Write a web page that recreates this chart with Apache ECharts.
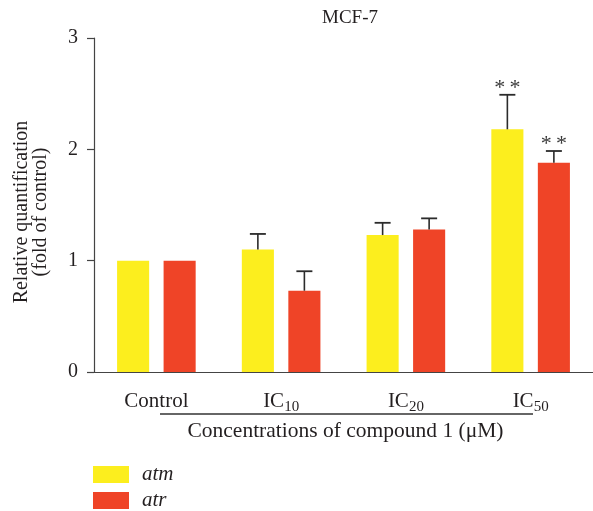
<!DOCTYPE html>
<html>
<head>
<meta charset="utf-8">
<script src="https://cdn.jsdelivr.net/npm/echarts@6/dist/echarts.min.js"></script>
<style>html,body{margin:0;padding:0;background:#fff;}#c{width:593px;height:511px;}</style>
</head>
<body>
<div id="c"></div>
<script>
var categories = ['Control', 'IC10', 'IC20', 'IC50'];
var subscripts = ['', '10', '20', '50'];
var atm = [1.0, 1.10, 1.23, 2.18];
var atmErr = [0, 0.14, 0.11, 0.31];
var atmSig = ['', '', '', '**'];
var atr = [1.0, 0.73, 1.28, 1.88];
var atrErr = [0, 0.175, 0.10, 0.105];
var atrSig = ['', '', '', '**'];
var yTicks = [0, 1, 2, 3];

var FONT = '"Liberation Serif", "DejaVu Serif", serif';
var TXT = '#231f20';
var CAT_GAP = 0.37, BAR_GAP = 0.45;

function errSeries(name, vals, errs, sigs, side) {
  var data = vals.map(function (v, i) { return [i, v, v + errs[i], sigs[i]]; });
  return {
    type: 'custom', name: name + ' err', silent: true, z: 5,
    data: data,
    renderItem: function (params, api) {
      var i = api.value(0), lo = api.value(1), hi = api.value(2);
      var sig = data[params.dataIndex][3];
      var band = api.size([1, 0])[0];
      var bw = band * (1 - CAT_GAP) / (2 + BAR_GAP);
      var off = side * bw * (1 + BAR_GAP) / 2;
      var p0 = api.coord([i, lo]), p1 = api.coord([i, hi]);
      var x = p0[0] + off;
      var children = [];
      if (hi > lo) {
        children.push({ type: 'line', shape: { x1: x, y1: p0[1], x2: x, y2: p1[1] }, style: { stroke: '#2b2b2b', lineWidth: 1.6 } });
        children.push({ type: 'line', shape: { x1: x - 8, y1: p1[1], x2: x + 8, y2: p1[1] }, style: { stroke: '#2b2b2b', lineWidth: 1.8 } });
      }
      if (sig) {
        children.push({ type: 'text', style: { text: sig.split('').join('\u2009'), x: x, y: p1[1] - 7, textAlign: 'center', textVerticalAlign: 'middle', fontSize: 22, fontFamily: FONT, fill: '#3a3a3a' } });
      }
      return { type: 'group', children: children };
    }
  };
}

var chart = echarts.init(document.getElementById('c'), null, { renderer: 'canvas' });
chart.setOption({
  animation: false,
  title: {
    text: 'MCF-7', left: 345, top: 4, textAlign: 'center',
    textStyle: { fontFamily: FONT, fontSize: 19, fontWeight: 'normal', color: TXT }
  },
  grid: { left: 94, top: 38, width: 505, height: 334 },
  legend: {
    orient: 'vertical', left: 93, top: 464, height: 60, padding: 0, itemWidth: 36, itemHeight: 17, itemGap: 5,
    icon: 'rect', data: ['atm', 'atr'],
    textStyle: { fontFamily: FONT, fontStyle: 'italic', fontSize: 21, lineHeight: 17, color: TXT, padding: [0, 0, 0, 8] }
  },
  xAxis: {
    type: 'category', data: categories,
    axisLine: { lineStyle: { color: '#444', width: 1.2 } },
    axisTick: { alignWithLabel: true, length: 9, lineStyle: { color: '#444', width: 1.2 } },
    axisLabel: {
      margin: 18,
      formatter: function (v, idx) {
        return subscripts[idx] ? '{a|IC}{s|' + subscripts[idx] + '}' : '{a|' + v + '}';
      },
      rich: {
        a: { fontFamily: FONT, fontSize: 21, color: TXT, lineHeight: 22 },
        s: { fontFamily: FONT, fontSize: 15, color: TXT, verticalAlign: 'top', padding: [10, 0, 0, 0], lineHeight: 14 }
      }
    },
    name: 'Concentrations of compound 1 (\u03bcM)', nameLocation: 'middle', nameGap: 46,
    nameTextStyle: { fontFamily: FONT, fontSize: 21.5, color: TXT, padding: [0, 0, 0, 4] }
  },
  yAxis: {
    type: 'value', min: 0, max: 3, interval: 1,
    axisLine: { show: true, lineStyle: { color: '#444', width: 1.2 } },
    axisTick: { show: true, length: 7, lineStyle: { color: '#444', width: 1.2 } },
    splitLine: { show: false },
    axisLabel: { margin: 16, fontFamily: FONT, fontSize: 20, color: TXT },
    name: 'Relative quantification\n(fold of control)', nameLocation: 'middle', nameRotate: 90, nameGap: 44,
    nameTextStyle: { fontFamily: FONT, fontSize: 20, color: TXT, lineHeight: 19, padding: [0, 14, 0, 0] }
  },
  graphic: [{
    type: 'line', shape: { x1: 160, y1: 414, x2: 533, y2: 414 }, style: { stroke: '#333', lineWidth: 1.3 }
  }],
  series: [
    { name: 'atm', type: 'bar', data: atm, itemStyle: { color: '#fcee1e' }, barCategoryGap: (CAT_GAP * 100) + '%', barGap: (BAR_GAP * 100) + '%' },
    { name: 'atr', type: 'bar', data: atr, itemStyle: { color: '#ef4427' }, barCategoryGap: (CAT_GAP * 100) + '%', barGap: (BAR_GAP * 100) + '%' },
    errSeries('atm', atm, atmErr, atmSig, -1),
    errSeries('atr', atr, atrErr, atrSig, 1)
  ]
});
</script>
</body>
</html>
